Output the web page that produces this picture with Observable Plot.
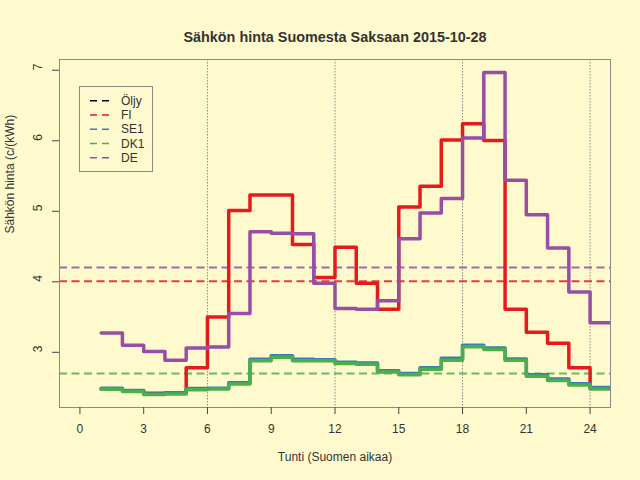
<!DOCTYPE html>
<html>
<head>
<meta charset="utf-8">
<script src="https://cdn.jsdelivr.net/npm/d3@7"></script>
<script src="https://cdn.jsdelivr.net/npm/@observablehq/plot@0.6"></script>
<style>
  html, body { margin: 0; padding: 0; background: #fffacd; }
  #wrap { position: relative; width: 640px; height: 480px; background: #fffacd; font-family: "Liberation Sans", Arial, sans-serif; }
  #legend { position: absolute; left: 79px; top: 86px; }
</style>
</head>
<body>
<div id="wrap"></div>
<script>
// ---- data ----
const hours = [1,2,3,4,5,6,7,8,9,10,11,12,13,14,15,16,17,18,19,20,21,22,23,24];
const fi  = [2.48,2.455,2.42,2.42,2.78,3.50,5.01,5.23,5.23,4.53,4.06,4.49,3.98,3.61,5.06,5.355,6.01,6.24,6.005,3.61,3.285,3.13,2.78,2.49];
const se1 = [2.49,2.46,2.41,2.425,2.485,2.49,2.57,2.90,2.95,2.90,2.895,2.86,2.85,2.74,2.70,2.78,2.915,3.10,3.06,2.905,2.68,2.62,2.555,2.50];
const dk1 = [2.477,2.445,2.40,2.41,2.47,2.48,2.55,2.88,2.93,2.88,2.88,2.84,2.83,2.72,2.68,2.76,2.886,3.08,3.04,2.886,2.66,2.60,2.535,2.48];
const de  = [3.275,3.10,3.01,2.886,3.06,3.075,3.55,4.71,4.69,4.68,3.98,3.62,3.61,3.73,4.61,4.975,5.18,6.04,6.97,5.44,4.95,4.48,3.855,3.42];
const seriesNames = ["Öljy","FI","SE1","DK1","DE"];
const seriesColors = ["#000000","#e41a1c","#377eb8","#4daf4a","#984ea3"];
const xTicks = [0,3,6,9,12,15,18,21,24];
const yTicks = [3,4,5,6,7];
const gridX = [6,12,18,24];
const xLim = [0,24];

const titleText = "Sähkön hinta Suomesta Saksaan 2015-10-28";
const xLabel = "Tunti (Suomen aikaa)";
const yLabel = "Sähkön hinta (c/(kWh)";

// ---- helpers ----
const stepRows = (vals) => hours.map((h,i)=>({h, v: vals[i]})).concat([{h: hours[hours.length-1]+1, v: vals[vals.length-1]}]);
const ext = ([a,b]) => { const d = (b-a)*0.04; return [a-d, b+d]; };
const allVals = fi.concat(se1, dk1, de);
const yDom = ext(d3.extent(allVals));
const xDom = ext(xLim);

const series = [
  {vals: fi, color: seriesColors[1], avg: true},
  {vals: se1, color: seriesColors[2], avg: false},
  {vals: dk1, color: seriesColors[3], avg: true},
  {vals: de, color: seriesColors[4], avg: true}
];

const font = "Liberation Sans, Arial, sans-serif";

const chart = Plot.plot({
  width: 640,
  height: 480,
  marginLeft: 59,
  marginRight: 30,
  marginTop: 59,
  marginBottom: 73,
  style: {background: "#fffacd", fontFamily: font, fontSize: "12px", color: "#333"},
  x: {domain: xDom},
  y: {domain: yDom},
  marks: [
    Plot.ruleX(gridX, {stroke: "#8c8c8c", strokeWidth: 1, strokeDasharray: "1.5,1.5"}),
    ...series.filter(s => s.avg).map(s => Plot.ruleY([d3.mean(s.vals)], {stroke: s.color, strokeWidth: 2, strokeOpacity: 0.85, strokeDasharray: "8,4.5"})),
    ...series.map(s => Plot.line(stepRows(s.vals), {x: "h", y: "v", curve: "step-after", stroke: s.color, strokeWidth: 3.5, strokeLinejoin: "round", strokeLinecap: "round", clip: true})),
    Plot.frame({stroke: "#8a8a8a"}),
    Plot.axisX({ticks: xTicks, tickSize: 7, tickPadding: 10, stroke: "#444", fill: "#333", fontSize: 12, label: null, tickFormat: d => String(d)}),
    Plot.axisY({ticks: yTicks, tickSize: 7, stroke: "#444", label: null, tickFormat: () => ""}),
    Plot.text(yTicks, {y: d => d, text: d => String(d), frameAnchor: "left", dx: -21, rotate: -90, fontSize: 12, fill: "#333", lineAnchor: "middle"}),
    Plot.text([xLabel], {frameAnchor: "bottom", dy: 50, lineAnchor: "middle", fontSize: 12, fill: "#333"}),
    Plot.text([yLabel], {frameAnchor: "left", dx: -49, rotate: -90, lineAnchor: "middle", fontSize: 12, fill: "#333"}),
    Plot.text([titleText], {frameAnchor: "top", dy: -22, lineAnchor: "middle", fontSize: 14.4, fontWeight: "bold", fill: "#333"})
  ]
});

const wrap = document.getElementById("wrap");
wrap.appendChild(chart);

// ---- legend ----
const lw = 74, lh = 86;
const leg = d3.create("svg").attr("id","legend").attr("width", lw).attr("height", lh)
  .style("position","absolute").style("left","79px").style("top","86px");
leg.append("rect").attr("x",0.5).attr("y",0.5).attr("width",lw-1).attr("height",lh-1)
  .attr("fill","none").attr("stroke","#8a8a8a");
seriesNames.forEach((name,i) => {
  const y = 14.7 + 14.25*i;
  leg.append("line").attr("x1",11).attr("x2",30).attr("y1",y).attr("y2",y)
    .attr("stroke", seriesColors[i]).attr("stroke-width",1.6).attr("stroke-dasharray","7,5");
  leg.append("text").attr("x",42).attr("y",y).attr("dy","0.35em")
    .attr("font-family", font).attr("font-size",12).attr("fill","#333").text(name);
});
wrap.appendChild(leg.node());
</script>
</body>
</html>
